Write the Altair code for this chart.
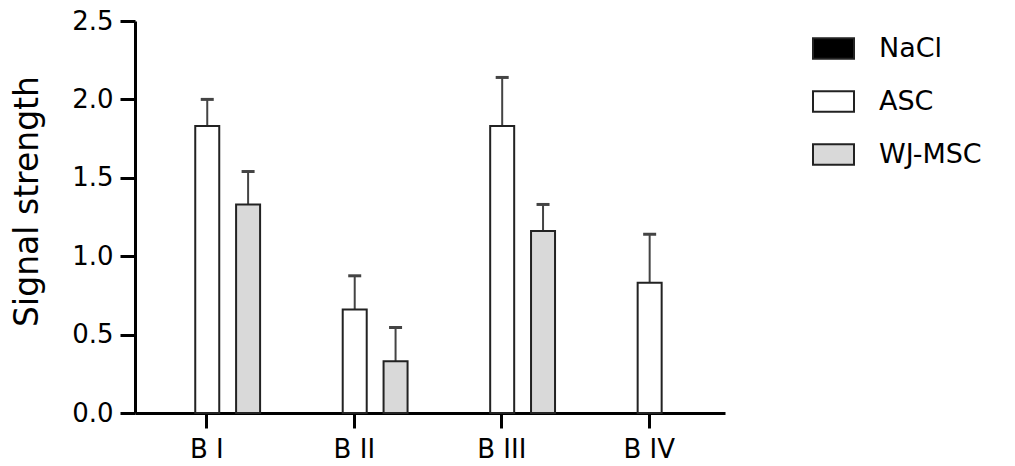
import json
import altair as alt
import pandas as pd

categories = ["B I", "B II", "B III", "B IV"]
groups = ["NaCl", "ASC", "WJ-MSC"]
nacl_mean = [0.0, 0.0, 0.0, 0.0]
nacl_err = [0.0, 0.0, 0.0, 0.0]
asc_mean = [1.83, 0.66, 1.83, 0.83]
asc_err = [0.17, 0.215, 0.31, 0.31]
wj_mean = [1.33, 0.33, 1.16, 0.0]
wj_err = [0.21, 0.215, 0.17, 0.0]
fill_colors = ["#000000", "#ffffff", "#d9d9d9"]
y_ticks = [0.0, 0.5, 1.0, 1.5, 2.0, 2.5]

rows = []
for gi, (g, means, errs) in enumerate(
    zip(groups, [nacl_mean, asc_mean, wj_mean], [nacl_err, asc_err, wj_err])
):
    for ci, c in enumerate(categories):
        rows.append({"category": c, "cat_index": ci, "group": g,
                     "group_index": gi, "mean": means[ci], "err": errs[ci]})
df = pd.DataFrame(rows)

FONT = "DejaVu Sans"
label_expr = json.dumps(categories) + "[datum.value]"

x_scale = alt.Scale(domain=[-0.45, 3.483], nice=False, zero=False)
y_scale = alt.Scale(domain=[0, 2.5], nice=False)

base = alt.Chart(df).transform_calculate(
    pos="datum.cat_index + (datum.group_index - 1) * 0.277 + 0.006",
    upper="datum.mean + datum.err",
)

x_axis = alt.Axis(values=[0, 1, 2, 3], labelExpr=label_expr, title=None, grid=False,
                  domainColor="black", domainWidth=3, tickColor="black", tickWidth=3,
                  tickSize=15, labelFont=FONT, labelFontSize=26, labelColor="black",
                  labelPadding=8)
y_axis = alt.Axis(values=y_ticks, format=".1f", title="Signal strength", grid=False,
                  domainColor="black", domainWidth=3, tickColor="black", tickWidth=3,
                  tickSize=15, labelFont=FONT, labelFontSize=26, labelColor="black",
                  labelPadding=7, titleFont=FONT, titleFontSize=33, titleFontWeight="normal",
                  titleColor="black", titleAngle=270, titleAlign="center",
                  titleBaseline="alphabetic", titleX=-98, titleY=180)

bars = base.transform_filter("datum.mean > 0").mark_bar(
    size=24, stroke="#222222", strokeWidth=2
).encode(
    x=alt.X("pos:Q", scale=x_scale, axis=x_axis),
    y=alt.Y("mean:Q", scale=y_scale, axis=y_axis),
    fill=alt.Fill("group:N", scale=alt.Scale(domain=groups, range=fill_colors),
                  legend=alt.Legend(title=None, orient="none", legendX=677, legendY=6,
                                    symbolType="M-1,-0.5H1V0.5H-1Z", symbolSize=1681,
                                    symbolStrokeColor="#222222", symbolStrokeWidth=2,
                                    symbolOpacity=1,
                                    labelFont=FONT, labelFontSize=27, labelColor="black",
                                    labelOffset=24, rowPadding=17, padding=0)),
)

err_lines = base.transform_filter("datum.err > 0").mark_rule(
    color="#444444", strokeWidth=2
).encode(
    x=alt.X("pos:Q", scale=x_scale),
    y=alt.Y("mean:Q", scale=y_scale),
    y2="upper:Q",
)

caps = base.transform_filter("datum.err > 0").mark_tick(
    orient="horizontal", size=13, thickness=3, color="#444444", opacity=1
).encode(
    x=alt.X("pos:Q", scale=x_scale),
    y=alt.Y("upper:Q", scale=y_scale),
)

chart = alt.layer(err_lines, caps, bars).properties(
    width=590, height=392,
    autosize=alt.AutoSizeParams(type="none"),
    padding={"left": 127, "top": 13, "right": 280, "bottom": 50},
    background="white",
).configure_view(stroke=None)

chart.save("out.html", embed_options={"renderer": "svg", "actions": False})
